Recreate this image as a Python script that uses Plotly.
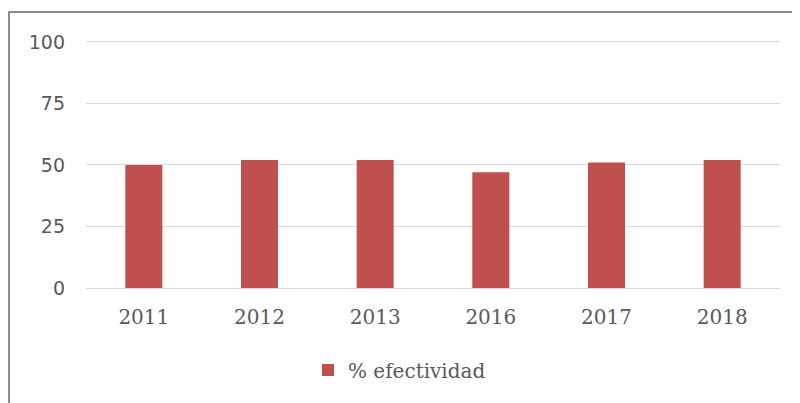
import plotly.graph_objects as go

# Years shown on the category axis and the effectiveness percentage per year
years = ['2011', '2012', '2013', '2016', '2017', '2018']
efectividad = [50, 52, 52, 47, 51, 52]

y_ticks = [0, 25, 50, 75, 100]

# the page body adds an 8px offset, so the figure is sized to fit inside it
W, H = 792, 395
L, R, T, B = 78, 20, 29, 115
plot_w = W - L - R
plot_h = H - T - B

fig = go.Figure(go.Bar(
    x=years,
    y=efectividad,
    name='% efectividad',
    marker=dict(color='#c0504d', line=dict(width=0)),
))

# outer chart frame (Excel style), bleeding off the right and bottom edges
fig.add_shape(
    type='rect', xref='paper', yref='paper',
    x0=(1 - L) / plot_w, x1=1.2,
    y0=-1.0, y1=(plot_h + T - 4) / plot_h,
    line=dict(color='#8c8c8c', width=2),
    fillcolor='rgba(0,0,0,0)', layer='below',
)

fig.update_layout(
    width=W, height=H,
    margin=dict(l=L, r=R, t=T, b=B),
    paper_bgcolor='white', plot_bgcolor='white',
    bargap=0.68,
    showlegend=True,
    legend=dict(
        orientation='h',
        x=(300 - L) / plot_w, xanchor='left',
        y=(plot_h - (362 - T)) / plot_h, yanchor='middle',
        font=dict(family='DejaVu Serif', size=20, color='#595959'),
        itemwidth=30,
    ),
    xaxis=dict(
        showgrid=False, showline=False, ticks='',
        tickfont=dict(family='DejaVu Serif', size=20, color='#595959'),
        ticklabelstandoff=15,
    ),
    yaxis=dict(
        # a little headroom above 100 so the top gridline is still drawn
        range=[0, 102], tickvals=y_ticks,
        showgrid=True, gridcolor='#d9d9d9', gridwidth=1,
        zeroline=True, zerolinecolor='#d9d9d9', zerolinewidth=1,
        showline=False, ticks='',
        tickfont=dict(family='DejaVu Sans', size=19, color='#595959'),
        ticklabelstandoff=20,
    ),
)

fig.write_html('out.html')
